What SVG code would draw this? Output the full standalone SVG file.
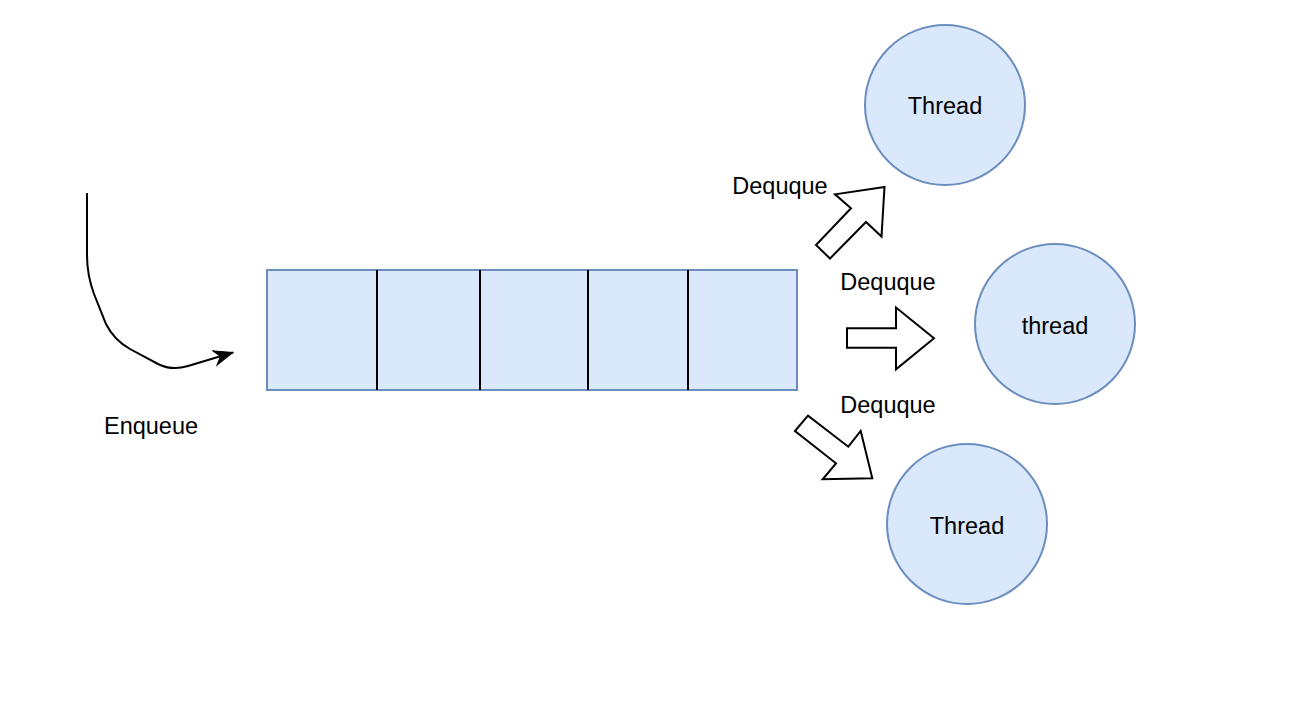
<svg xmlns="http://www.w3.org/2000/svg" width="1300" height="722" viewBox="0 0 1300 722">
<style>
.t{font-family:"Liberation Sans",Arial,Helvetica,sans-serif;font-size:23.5px;fill:#000;text-anchor:middle}
.box{fill:#dae8fc;stroke:#6c8ebf;stroke-width:2}
.div{stroke:#000;stroke-width:2}
.blk{fill:#fff;stroke:#000;stroke-width:2;stroke-linejoin:miter}
.edge{fill:none;stroke:#000;stroke-width:2}
</style>
<defs>
<marker id="ah" markerUnits="userSpaceOnUse" markerWidth="24" markerHeight="20" viewBox="-20 -10 24 20" refX="0" refY="0" orient="auto">
<path d="M0,0 L-19,-7.5 L-13,0 L-19,7.5 Z" fill="#000" stroke="#000" stroke-width="1"/>
</marker>
</defs>
<rect width="1300" height="722" fill="#fff"/>
<g id="queue">
<rect class="box" x="267" y="270" width="530" height="120"/>
<line class="div" x1="377" y1="270" x2="377" y2="390"/>
<line class="div" x1="480" y1="270" x2="480" y2="390"/>
<line class="div" x1="588" y1="270" x2="588" y2="390"/>
<line class="div" x1="688" y1="270" x2="688" y2="390"/>
</g>
<g id="thread1">
<circle class="box" cx="945" cy="105" r="80"/>
<text class="t" x="945" y="113.5">Thread</text>
</g>
<g id="thread2">
<circle class="box" cx="1055" cy="324" r="80"/>
<text class="t" x="1055" y="333.5">thread</text>
</g>
<g id="thread3">
<circle class="box" cx="967" cy="524" r="80"/>
<text class="t" x="967" y="533.5">Thread</text>
</g>
<g id="connectors">
<path class="edge" marker-end="url(#ah)" d="M87 193 L87 255 Q87 275 94 294 L106 324 Q114 340 130 349 L158 364 Q172 371 188 366 L233 352.5"/>
<polygon id="arrow-up" class="blk" points="884.5,187 835,194.3 851,208.3 816,245 830,258.5 866,222 881.5,236.5"/>
<polygon id="arrow-right" class="blk" points="847,328.3 896,328.3 896,307.5 934,338.3 896,369.3 896,347.7 847,347.7"/>
<polygon id="arrow-down" class="blk" points="795,431 808,415.7 848.3,446.7 860.7,431 872.3,478.3 822.7,479.3 836,463.3"/>
</g>
<g id="labels">
<text class="t" x="151" y="433.5">Enqueue</text>
<text class="t" x="780" y="193.5">Dequque</text>
<text class="t" x="888" y="289.5">Dequque</text>
<text class="t" x="888" y="413">Dequque</text>
</g>
</svg>
